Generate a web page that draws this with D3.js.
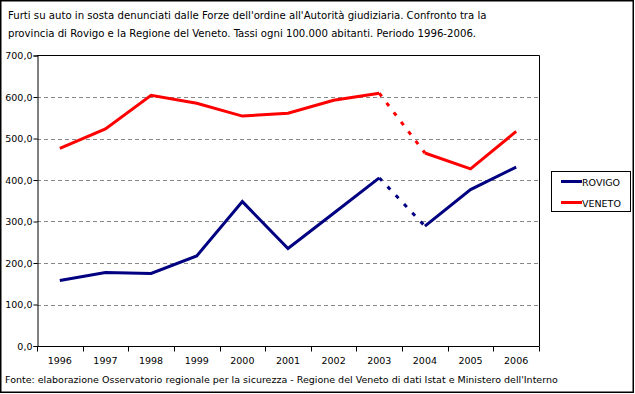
<!DOCTYPE html>
<html>
<head>
<meta charset="utf-8">
<script src="https://cdn.jsdelivr.net/npm/d3@7"></script>
<style>
  body { margin: 0; background: #fff; }
  svg { display: block; font-family: "DejaVu Sans", Verdana, sans-serif; }
  .title text { font-stretch: condensed; }
</style>
</head>
<body>
<div id="chart"></div>
<script>
const years = ["1996", "1997", "1998", "1999", "2000", "2001", "2002", "2003", "2004", "2005", "2006"];
const rovigo = [158, 177, 175, 217, 348, 235, 320, 405, 289, 377, 431];
const veneto = [476, 523, 604, 585, 554, 561, 592, 609, 465, 427, 517];
const yTicks = [0, 100, 200, 300, 400, 500, 600, 700];
const titleLines = [
  "Furti su auto in sosta denunciati dalle Forze dell'ordine all'Autorità giudiziaria. Confronto tra la",
  "provincia di Rovigo e la Regione del Veneto. Tassi ogni 100.000 abitanti. Periodo 1996-2006."
];
const source = "Fonte: elaborazione Osservatorio regionale per la sicurezza - Regione del Veneto di dati Istat e Ministero dell'Interno";

const width = 635, height = 394;
const plot = { left: 37, right: 539, top: 55.5, bottom: 346 };

const svg = d3.select("#chart").append("svg")
  .attr("width", width)
  .attr("height", height);

// outer frame
svg.append("rect")
  .attr("x", 0.75).attr("y", 0.75)
  .attr("width", 632.5).attr("height", 391.5)
  .attr("fill", "#fff").attr("stroke", "#000").attr("stroke-width", 1.5);

// title
const title = svg.append("g").attr("class", "title");
titleLines.forEach((t, i) => {
  title.append("text")
    .attr("x", 8).attr("y", 19 + i * 18)
    .attr("font-size", 12.5)
    .text(t);
});
// fit first line to the width seen in the reference
const w0 = title.select("text").node().getComputedTextLength();
title.selectAll("text").attr("font-size", Math.min(13, 12.5 * 479 / w0));

const x = d3.scaleBand().domain(years).range([plot.left, plot.right]);
const y = d3.scaleLinear().domain([0, 700]).range([plot.bottom, plot.top]);

// gridlines
svg.append("g")
  .selectAll("line")
  .data(yTicks.filter(d => d > 0 && d < 700))
  .join("line")
  .attr("x1", plot.left).attr("x2", plot.right)
  .attr("y1", d => Math.round(y(d)) + 0.5).attr("y2", d => Math.round(y(d)) + 0.5)
  .attr("stroke", "#888").attr("stroke-dasharray", "4,3");

// plot border (top, right)
svg.append("path")
  .attr("d", `M${plot.left},${plot.top}H${plot.right + 0.5}V${plot.bottom}`)
  .attr("fill", "none").attr("stroke", "#000");

// y axis
const yAxis = svg.append("g")
  .attr("transform", `translate(${plot.left + 0.5},0)`)
  .call(d3.axisLeft(y).tickValues(yTicks).tickSize(4).tickPadding(2)
    .tickFormat(d => d3.format(".1f")(d).replace(".", ",")));
yAxis.selectAll("text").attr("font-size", 9.5).attr("font-family", "DejaVu Sans").attr("dx", "0.1em");

// x axis with ticks between categories
const xAxis = svg.append("g")
  .attr("transform", `translate(0,${plot.bottom + 0.5})`);
xAxis.append("line")
  .attr("x1", plot.left).attr("x2", plot.right + 0.5)
  .attr("stroke", "#000");
xAxis.selectAll(".tk")
  .data(d3.range(years.length + 1))
  .join("line")
  .attr("x1", i => Math.round(plot.left + i * x.step()) + 0.5)
  .attr("x2", i => Math.round(plot.left + i * x.step()) + 0.5)
  .attr("y1", 0).attr("y2", 5)
  .attr("stroke", "#000");
xAxis.selectAll("text")
  .data(years)
  .join("text")
  .attr("x", d => x(d) + x.bandwidth() / 2)
  .attr("y", 17)
  .attr("text-anchor", "middle")
  .attr("font-size", 9.5)
  .text(d => d);

// lines: solid except 2003-2004 dashed
const series = [
  { name: "ROVIGO", values: rovigo, color: "#000080" },
  { name: "VENETO", values: veneto, color: "#ff0000" }
];
const cx = d => x(d) + x.bandwidth() / 2;
const line = d3.line().x(d => cx(d.year)).y(d => y(d.value));
const gapStart = years.indexOf("2003");

series.forEach(s => {
  const pts = years.map((yr, i) => ({ year: yr, value: s.values[i] }));
  const g = svg.append("g").attr("fill", "none").attr("stroke", s.color)
    .attr("stroke-width", 3).attr("stroke-linejoin", "miter");
  g.append("path").attr("d", line(pts.slice(0, gapStart + 1)));
  g.append("path").attr("d", line(pts.slice(gapStart, gapStart + 2)))
    .attr("stroke-dasharray", "4,8");
  g.append("path").attr("d", line(pts.slice(gapStart + 1)));
});

// legend
const legend = svg.append("g");
legend.append("rect")
  .attr("x", 551.5).attr("y", 171.5).attr("width", 79).attr("height", 40)
  .attr("fill", "#fff").attr("stroke", "#000");
series.forEach((s, i) => {
  const ly = 181.5 + i * 21;
  legend.append("line")
    .attr("x1", 561).attr("x2", 582).attr("y1", ly).attr("y2", ly)
    .attr("stroke", s.color).attr("stroke-width", 3);
  legend.append("text")
    .attr("x", 582).attr("y", ly + 4)
    .attr("font-size", 9.5)
    .text(s.name);
});

// source note
svg.append("text")
  .attr("x", 5).attr("y", 383)
  .attr("font-size", 9.5)
  .text(source);
</script>
</body>
</html>
